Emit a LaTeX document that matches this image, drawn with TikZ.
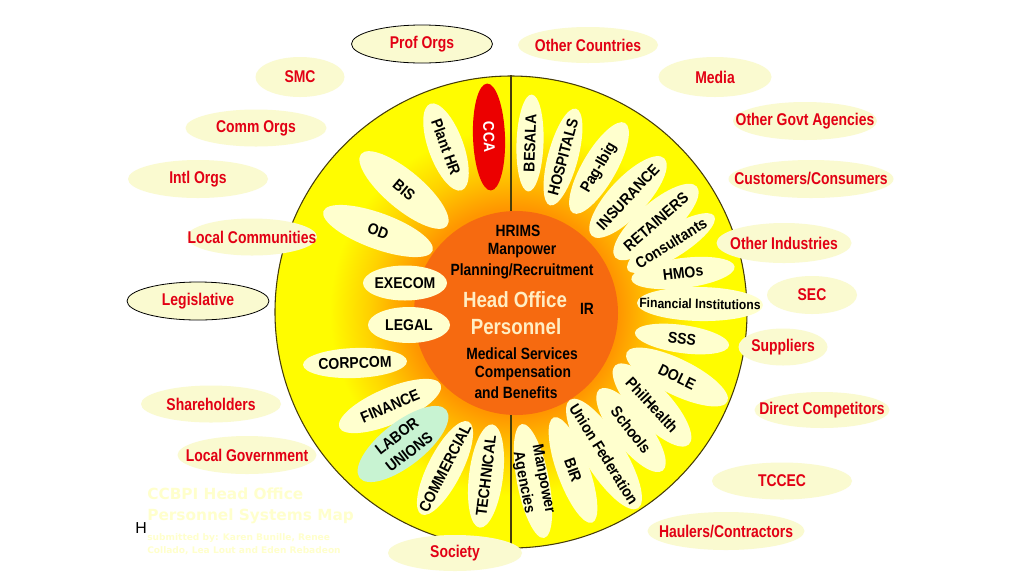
\documentclass[tikz,border=0pt]{standalone}
\usepackage{fontspec}
\setmainfont{Liberation Sans}
\newfontfamily\ovalfont[FakeStretch=0.82]{Liberation Sans}
\newfontfamily\petalfont[FakeStretch=0.9]{Liberation Sans}
\newfontfamily\hubfont[FakeStretch=0.85]{Liberation Sans}
\newfontfamily\ghostfont{DejaVu Sans}
\usepackage{tikz}
\usetikzlibrary{shapes.geometric}
\definecolor{cream}{RGB}{255,255,206}
\definecolor{ovalcream}{RGB}{250,250,208}
\definecolor{labred}{RGB}{226,0,20}
\definecolor{ccared}{RGB}{236,0,0}
\definecolor{mint}{RGB}{200,243,210}
\definecolor{hubor}{RGB}{246,106,16}
\definecolor{headcream}{RGB}{255,238,196}
\definecolor{sunA}{RGB}{255,120,0}
\definecolor{sunB}{RGB}{255,150,0}
\definecolor{sunC}{RGB}{255,210,0}
\definecolor{sunD}{RGB}{255,252,0}
\definecolor{rimline}{RGB}{70,60,10}
\definecolor{ghost}{RGB}{255,255,204}
\pgfdeclareradialshading{sunshade}{\pgfpoint{0.5bp}{0bp}}{color(0bp)=(sunA); color(11bp)=(sunB); color(15.5bp)=(sunC); color(19.5bp)=(sunD); color(50bp)=(sunD)}

\begin{document}
\begin{tikzpicture}[
  x=0.75pt, y=-0.75pt,
  oval/.style 2 args={ellipse, fill=ovalcream, inner sep=-80pt, minimum width={#1*0.75pt}, minimum height={#2*0.75pt}, text=labred, font=\ovalfont\bfseries\fontsize{12.75pt}{14pt}\selectfont},
  petal/.style 2 args={ellipse, fill=cream, inner sep=-80pt, minimum width={#1*0.75pt}, minimum height={#2*0.75pt}, align=center, font=\petalfont\bfseries\fontsize{11.7pt}{15pt}\selectfont},
  hubtxt/.style={font=\hubfont\bfseries\fontsize{12.2pt}{14pt}\selectfont},
  headtxt/.style={text=headcream, font=\hubfont\bfseries\fontsize{16.5pt}{18pt}\selectfont},
  ghostbig/.style={anchor=west, inner sep=0pt, text=ghost, font=\ghostfont\bfseries\fontsize{11.5pt}{13pt}\selectfont},
  ghostsmall/.style={anchor=west, inner sep=0pt, text=ghost, font=\ghostfont\bfseries\fontsize{6.8pt}{8pt}\selectfont}
]
\useasboundingbox (0,0) rectangle (1024,576);
\fill[white] (0,0) rectangle (1024,576);

% sun and hub
\node[circle, draw=rimline, line width=0.8pt, minimum size={472*0.75pt}, inner sep=0pt, shade, shading=sunshade] (sun) at (511,312) {};
\draw[rimline, line width=0.8pt] (sun.north) -- (sun.south);
\node[circle, fill=hubor, minimum size={204*0.75pt}, inner sep=0pt] (hub) at (516,313) {};

% petals, left half
\node[petal={116}{36}, rotate=-20] (od) at (378,231) {OD};
\node[petal={112}{38}, rotate=-40] (bis) at (404,190) {BIS};
\node[petal={92}{35}, rotate=-70] (plant) at (446,147) {Plant HR};
\node[petal={107}{32}, rotate=-88, fill=ccared, text=white] (cca) at (489,137) {CCA};
\node[petal={84}{35}] (exec) at (405,283) {EXECOM};
\node[petal={82}{36}] (legal) at (409,325) {LEGAL};
\node[petal={104}{30}, rotate=2] (corp) at (355,363) {CORPCOM};
\node[petal={110}{36}, rotate=23] (finance) at (390,406) {FINANCE};
\node[petal={110}{44}, rotate=38, fill=mint] (labor) at (403,444) {LABOR\\UNIONS};
\node[petal={104}{34}, rotate=63] (commer) at (445,468) {COMMERCIAL};
\node[petal={104}{34}, rotate=83] (tech) at (486,476) {TECHNICAL};

% petals, right half
\node[petal={97}{27}, rotate=88] (besala) at (530,143) {BESALA};
\node[petal={100}{30}, rotate=75] (hosp) at (563,157) {HOSPITALS};
\node[petal={104}{34}, rotate=60] (pag) at (599,168) {Pag-Ibig};
\node[petal={106}{38}, rotate=47] (insur) at (628,197) {INSURANCE};
\node[petal={108}{38}, rotate=41] (retain) at (656,222) {RETAINERS};
\node[petal={102}{30}, rotate=32] (consult) at (671,243) {Consultants};
\node[petal={104}{30}, rotate=7] (hmo) at (683,273) {HMOs};
\node[petal={126}{34}, rotate=-1, font=\petalfont\bfseries\fontsize{10.1pt}{12pt}\selectfont] (fininst) at (700,304) {Financial Institutions};
\node[petal={95}{28}, rotate=-8] (sss) at (682,339) {SSS};
\node[petal={112}{36}, rotate=-26] (dole) at (677,377) {DOLE};
\node[petal={108}{38}, rotate=-47] (phil) at (652,405) {PhilHealth};
\node[petal={103}{36}, rotate=-52] (school) at (631,430) {Schools};
\node[petal={128}{40}, rotate=-58] (union) at (604,454) {Union Federation};
\node[petal={112}{32}, rotate=-70] (bir) at (573,470) {BIR};
\node[petal={116}{32}, rotate=-79] (agency) at (533,481) {Manpower\\Agencies};

% hub texts
\node[hubtxt] (hrims) at (518,231) {HRIMS};
\node[hubtxt] (manpow) at (522,251) {Manpower};
\node[hubtxt] (plan) at (522,271) {Planning/Recruitment};
\node[headtxt] (head) at (515,300) {Head Office};
\node[headtxt] (pers) at (516,327) {Personnel};
\node[hubtxt] (ir) at (587,309) {IR};
\node[hubtxt] (med) at (522,354) {Medical Services};
\node[hubtxt] (comp) at (523,373) {Compensation};
\node[hubtxt] (bene) at (516,393) {and Benefits};

% outer ring
\node[oval={141}{38}, draw=black, line width=0.6pt] (prof) at (422,44) {Prof Orgs};
\node[oval={140}{36}] (othc) at (588,45) {Other Countries};
\node[oval={89}{40}] (smc) at (300,77) {SMC};
\node[oval={113}{40}] (media) at (715,77) {Media};
\node[oval={141}{37}] (comm) at (256,128) {Comm Orgs};
\node[oval={144}{38}] (ogov) at (805,121) {Other Govt Agencies};
\node[oval={140}{38}] (intl) at (198,179) {Intl Orgs};
\node[oval={165}{38}] (cust) at (811,179) {Customers/Consumers};
\node[oval={130}{37}] (lcom) at (252,237) {Local Communities};
\node[oval={135}{40}] (oind) at (784,243) {Other Industries};
\node[oval={142}{38}, draw=black, line width=0.6pt] (legis) at (198,301) {Legislative};
\node[oval={90}{38}] (sec) at (812,295) {SEC};
\node[oval={89}{37}] (supp) at (783,347) {Suppliers};
\node[oval={140}{37}] (share) at (211,404) {Shareholders};
\node[oval={135}{36}] (dcomp) at (822,410) {Direct Competitors};
\node[oval={139}{38}] (lgov) at (247,455) {Local Government};
\node[oval={140}{37}] (tccec) at (782,481) {TCCEC};
\node[oval={157}{38}] (haul) at (726,531) {Haulers/Contractors};
\node[oval={134}{36}] (soc) at (455,553) {Society};

% faded title
\node[ghostbig] (ttl1) at (147,494) {CCBPI Head Office};
\node[ghostbig] (ttl2) at (147,516) {Personnel Systems Map};
\node[ghostsmall] (sub1) at (147,538) {submitted by: Karen Bunille, Renee};
\node[ghostsmall] (sub2) at (147,551) {Collado, Lea Lout and Eden Rebadeon};
\node[font=\fontsize{11.9pt}{13pt}\selectfont, inner sep=0pt] (hmark) at (141,528) {H};
\end{tikzpicture}
\end{document}
